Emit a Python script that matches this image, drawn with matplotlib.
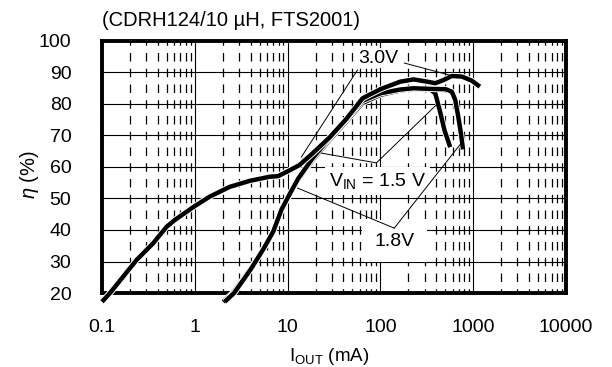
import numpy as np
import matplotlib
matplotlib.use("Agg")
import matplotlib.pyplot as plt
import matplotlib.patheffects as pe

# efficiency curves (I_OUT in mA, efficiency in %)
i_30 = [0.1, 0.122, 0.236, 0.356, 0.496, 0.61, 1.0, 1.45, 2.38, 3.9, 6.4, 7.9,
        10.6, 13.4, 18.7, 28.4, 42.8, 64.2, 100, 164, 228, 318, 390, 479, 589,
        756, 966, 1180]
eff_30 = [17.2, 20, 30.5, 35.8, 41, 43.2, 47.6, 50.6, 53.7, 55.6, 56.9, 57.1,
          59, 60.6, 64.4, 69.4, 75.2, 81.8, 84.7, 87.1, 87.8, 87.1, 86.6, 87.6,
          88.9, 88.7, 87.4, 85.5]

i_15 = [2.02, 2.57, 3.9, 5.37, 6.9, 8.5, 10.7, 12.9, 18.6, 28.4, 42.8, 64, 100,
        164, 228, 344, 390, 435, 490, 565]
eff_15 = [17.2, 20, 27.3, 33.7, 39, 46.3, 51.6, 55.9, 62.2, 68.6, 74.4, 80.3,
          82.9, 84.3, 84.8, 84.6, 83.4, 78.1, 71.7, 66.3]

i_18 = [2.1, 2.65, 4.0, 5.5, 7.0, 8.6, 10.8, 13, 18.6, 28.4, 42.8, 64, 100, 164,
        228, 344, 506, 589, 640, 690, 737, 777]
eff_18 = [17.2, 20, 27.5, 34, 39.5, 46.5, 52, 56.3, 62.8, 69.2, 75, 81, 83.4,
          84.6, 85, 84.8, 84.7, 83.9, 81.3, 76, 70.7, 65.6]

xticks = [0.1, 1, 10, 100, 1000, 10000]
xtick_labels = ["0.1", "1", "10", "100", "1000", "10000"]
yticks = [20, 30, 40, 50, 60, 70, 80, 90, 100]

plt.rcParams.update({
    "font.family": ["Liberation Sans", "DejaVu Sans"],
    "font.size": 14,
    "mathtext.fontset": "custom",
    "mathtext.rm": "Liberation Sans",
    "mathtext.it": "Liberation Sans:italic",
    "lines.scale_dashes": False,
})

fig = plt.figure(figsize=(6.12, 3.67), dpi=100)
ax = fig.add_axes([102 / 612, 74 / 367, 464 / 612, 252 / 367])

ax.set_xscale("log")
ax.set_xlim(0.1, 10000)
ax.set_ylim(20, 100)
ax.set_xticks(xticks, xtick_labels)
ax.set_yticks(yticks)
ax.xaxis.set_minor_locator(matplotlib.ticker.LogLocator(base=10, subs=np.arange(2, 10)))
ax.xaxis.set_minor_formatter(matplotlib.ticker.NullFormatter())
ax.tick_params(which="both", length=0)
ax.tick_params(axis="x", pad=19)
ax.tick_params(axis="y", pad=22)

ax.grid(True, which="major", axis="both", color="black", lw=0.8)
ax.grid(True, which="minor", axis="x", color="black", lw=0.9,
        linestyle=(3.06, (6.12, 5.22)))
ax.set_axisbelow(True)

for s in ax.spines.values():
    s.set_linewidth(2.8)

halo = [pe.Stroke(linewidth=4.6, foreground="white"), pe.Normal()]
for xs, ys in [(i_15, eff_15), (i_18, eff_18), (i_30, eff_30)]:
    ax.plot(xs, ys, color="black", lw=3.2, solid_capstyle="butt",
            clip_on=False, zorder=5, path_effects=halo)

# labels with white background
ax.text(57, 94.6, "3.0V", ha="left", va="center", zorder=6,
        bbox=dict(facecolor="white", edgecolor="none", pad=1))
ax.text(28, 55.6, r"V$_\mathrm{IN}$ = 1.5 V", ha="left", va="center", zorder=6,
        bbox=dict(facecolor="white", edgecolor="none", pad=3))
ax.text(141, 36.5, "1.8V", ha="center", va="center", zorder=6,
        bbox=dict(facecolor="white", edgecolor="none", pad=9))

# leader lines
leaders = [
    ([56.6, 14.1], [90.8, 63.2]),
    ([181, 552], [93.0, 89.2]),
    ([90.6, 23.2], [61.3, 64.4]),
    ([90.6, 400], [61.3, 79.7]),
    ([141, 12.8], [40.6, 53.3]),
    ([141, 743], [40.6, 67.6]),
]
for lx, ly in leaders:
    ax.plot(lx, ly, color="black", lw=0.7, zorder=7)

ax.set_xlabel(r"I$_\mathrm{OUT}$ (mA)", fontsize=13.5)
ax.xaxis.set_label_coords(0.49, -0.21)
ax.set_ylabel(r"$\eta$ (%)", fontsize=14.5)
ax.yaxis.set_label_coords(-0.132, 0.47)
fig.text(102 / 612, 1 - 21 / 367, "(CDRH124/10 µH, FTS2001)", ha="left",
         va="center", fontsize=14.5)

fig.savefig("out.png", dpi=100)
